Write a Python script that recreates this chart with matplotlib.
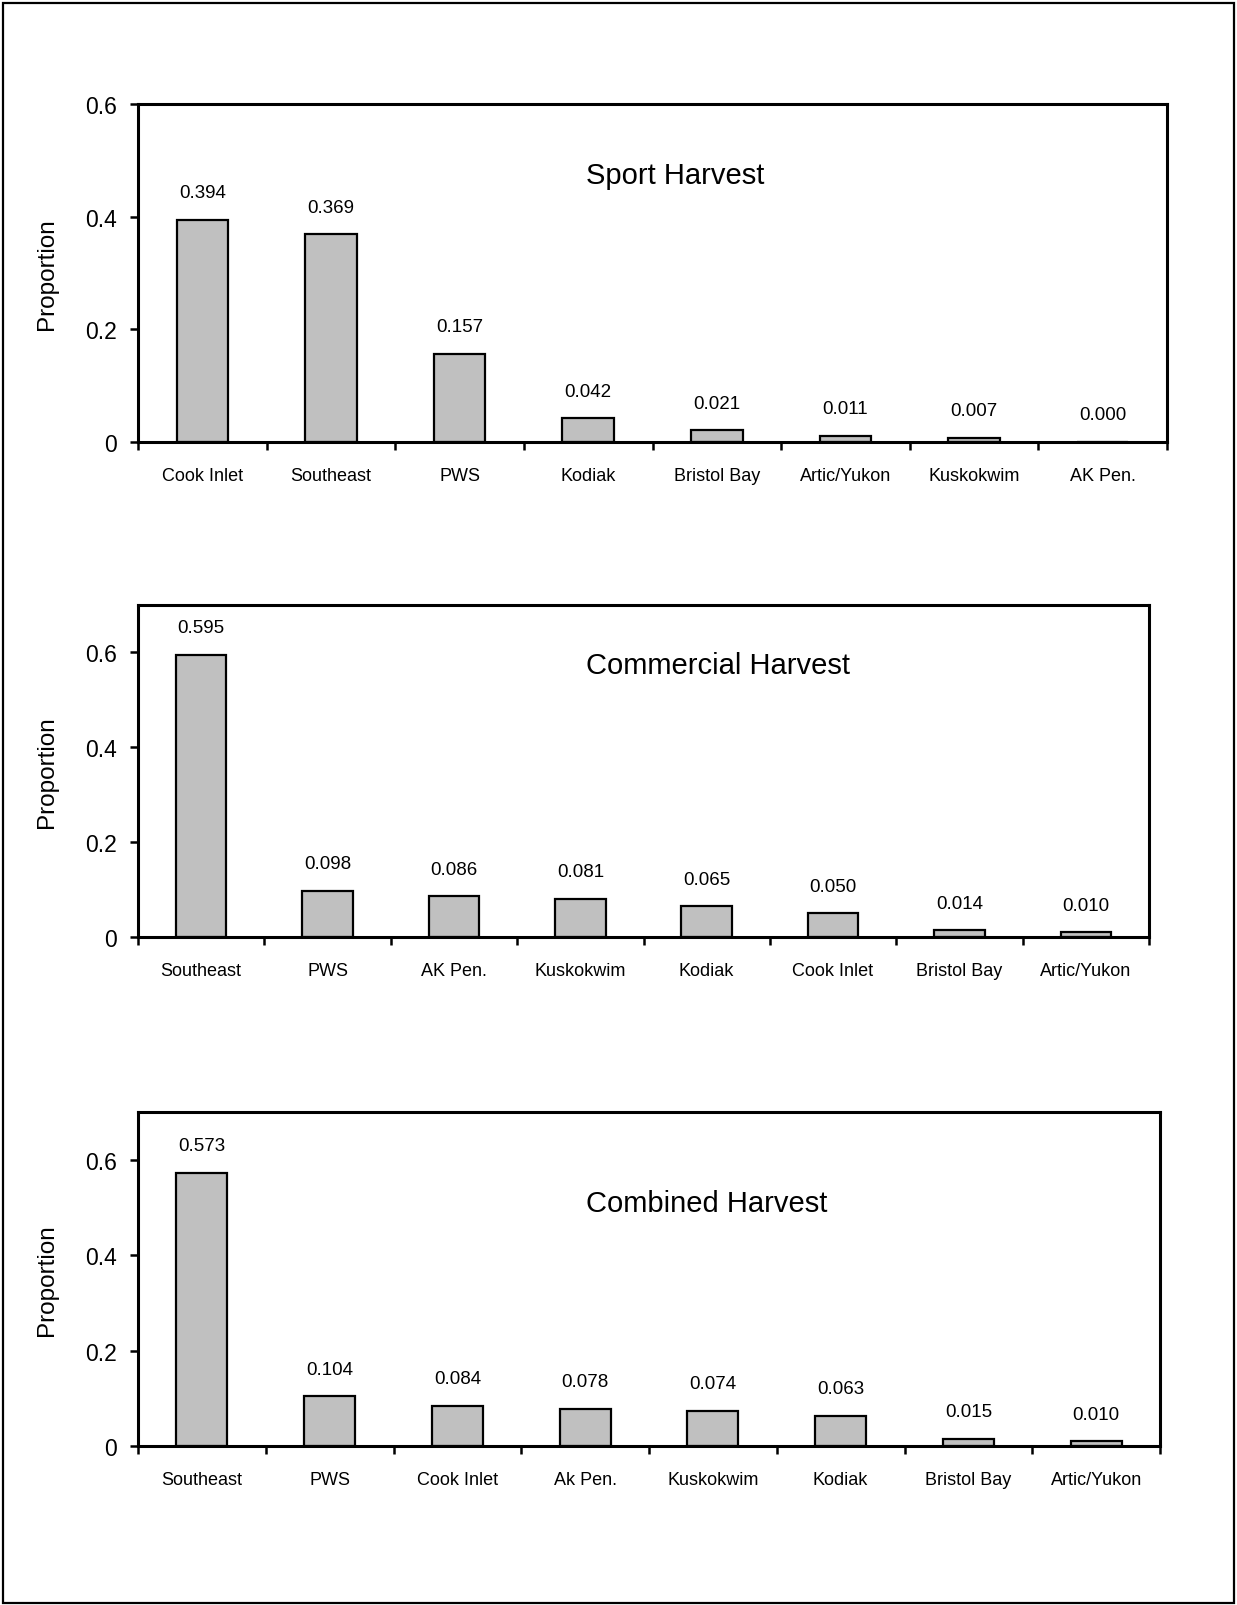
import matplotlib.pyplot as plt
from matplotlib.patches import Rectangle

plt.rcParams['font.family'] = ['Liberation Sans', 'DejaVu Sans']

# Data
sport_regions = ['Cook Inlet', 'Southeast', 'PWS', 'Kodiak', 'Bristol Bay',
                 'Artic/Yukon', 'Kuskokwim', 'AK Pen.']
sport_values = [0.394, 0.369, 0.157, 0.042, 0.021, 0.011, 0.007, 0.000]

comm_regions = ['Southeast', 'PWS', 'AK Pen.', 'Kuskokwim', 'Kodiak',
                'Cook Inlet', 'Bristol Bay', 'Artic/Yukon']
comm_values = [0.595, 0.098, 0.086, 0.081, 0.065, 0.050, 0.014, 0.010]

comb_regions = ['Southeast', 'PWS', 'Cook Inlet', 'Ak Pen.', 'Kuskokwim',
                'Kodiak', 'Bristol Bay', 'Artic/Yukon']
comb_values = [0.573, 0.104, 0.084, 0.078, 0.074, 0.063, 0.015, 0.010]

W, H = 1237, 1606

# (regions, values, title, ymax, axes box in pixels l,t,r,b, title centre in pixels)
panels = [
    (sport_regions, sport_values, 'Sport Harvest', 0.6, (138, 105, 1167, 443), (675, 176)),
    (comm_regions, comm_values, 'Commercial Harvest', 0.7, (138, 606, 1149, 938), (718, 666)),
    (comb_regions, comb_values, 'Combined Harvest', 0.7, (138, 1113, 1160, 1447), (707, 1204)),
]

fig = plt.figure(figsize=(W / 100, H / 100), dpi=100)

# page frame
fig.patches.append(Rectangle((0.0025, 0.0015), 0.995, 0.996, transform=fig.transFigure,
                             fill=False, edgecolor='black', linewidth=1.6))

for regions, values, title, ymax, box, tpos in panels:
    l, t, r, b = box
    ax = fig.add_axes([l / W, 1 - b / H, (r - l) / W, (b - t) / H])
    x = range(len(regions))
    ax.bar(x, values, width=0.4, color='#C0C0C0', edgecolor='black', linewidth=1.6, zorder=2)
    for xi, v in zip(x, values):
        ax.annotate(f'{v:.3f}', (xi, v), xytext=(0, 19.5), textcoords='offset points',
                    ha='center', va='center', fontsize=13.5)

    ax.set_xlim(-0.5, len(regions) - 0.5)
    ax.set_ylim(0, ymax)
    ax.set_yticks([0, 0.2, 0.4, 0.6])
    ax.set_yticklabels(['0', '0.2', '0.4', '0.6'])
    ax.tick_params(axis='y', direction='out', length=6, width=1.8, labelsize=16.5, pad=9)

    # labels at category centres, tick marks between categories
    ax.set_xticks(list(x))
    ax.set_xticklabels(regions, fontsize=13)
    ax.tick_params(axis='x', which='major', length=0, pad=18)
    ax.set_xticks([i - 0.5 for i in range(len(regions) + 1)], minor=True)
    ax.tick_params(axis='x', which='minor', direction='out', length=6, width=1.8)

    for sp in ax.spines.values():
        sp.set_linewidth(2.2)

    ax.set_ylabel('Proportion', fontsize=17.5)
    ax.yaxis.set_label_coords((58 - l) / (r - l), 0.5)
    fig.text(tpos[0] / W, 1 - tpos[1] / H, title, ha='center', va='center', fontsize=21)

fig.savefig('out.png', dpi=100)
